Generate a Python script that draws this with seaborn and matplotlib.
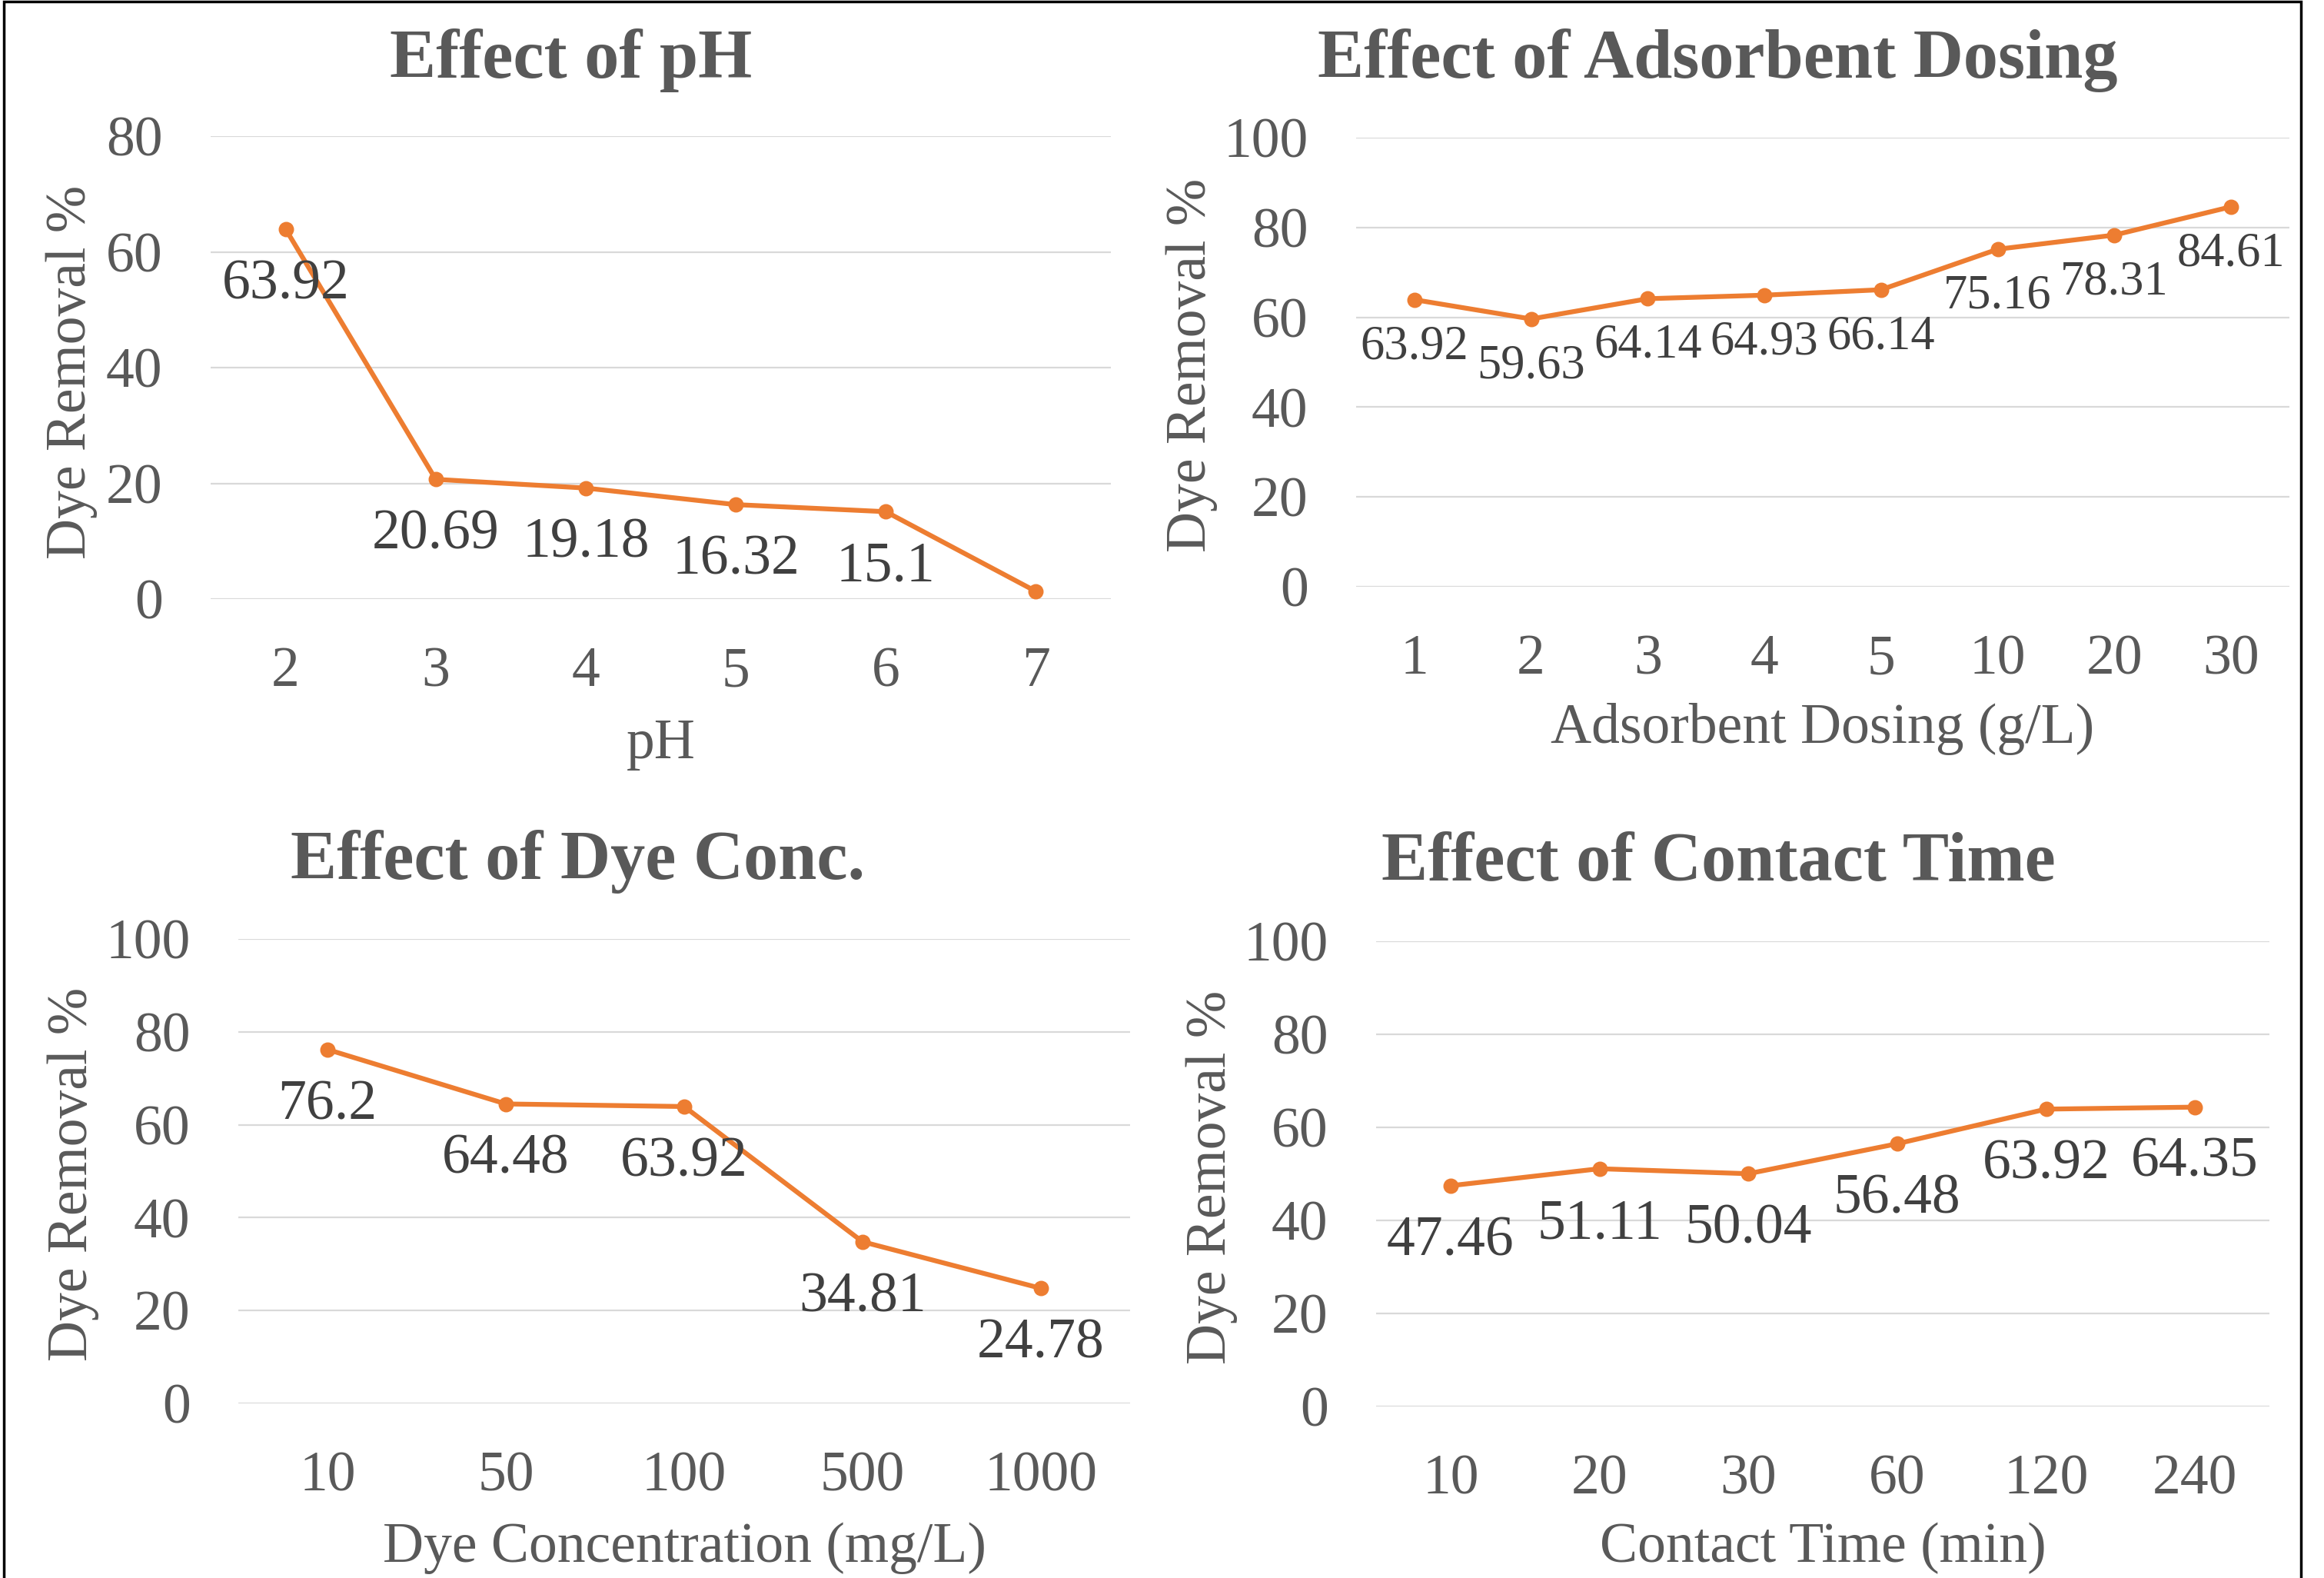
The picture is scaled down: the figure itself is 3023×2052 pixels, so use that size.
import matplotlib
matplotlib.use("Agg")
import matplotlib.pyplot as plt
import seaborn as sns
from matplotlib.patches import Rectangle

# ---- data -------------------------------------------------------------
ph_levels = ["2", "3", "4", "5", "6", "7"]
ph_removal = [63.92, 20.69, 19.18, 16.32, 15.1, 1.33]
ph_labelled = [True, True, True, True, True, False]

dose_levels = ["1", "2", "3", "4", "5", "10", "20", "30"]
dose_removal = [63.92, 59.63, 64.14, 64.93, 66.14, 75.16, 78.31, 84.61]
dose_labelled = [True] * len(dose_levels)

conc_levels = ["10", "50", "100", "500", "1000"]
conc_removal = [76.2, 64.48, 63.92, 34.81, 24.78]
conc_labelled = [True] * len(conc_levels)

time_levels = ["10", "20", "30", "60", "120", "240"]
time_removal = [47.46, 51.11, 50.04, 56.48, 63.92, 64.35]
time_labelled = [True] * len(time_levels)

# ---- style ------------------------------------------------------------
sns.set_style("white")
plt.rcParams["font.family"] = ["Liberation Serif", "DejaVu Serif"]

ORANGE = "#ED7D31"
GRID = "#D9D9D9"
TEXT = "#595959"
VALUE = "#404040"
FS = 53
TITLE_FS = 65

W, H = 3023, 2052
fig = plt.figure(figsize=(W / 100, H / 100), dpi=100)


def fx(px):
    return px / W


def fy(py):
    return 1 - py / H


panels = [
    dict(box=(274, 1445, 177, 779), levels=ph_levels, values=ph_removal,
         labelled=ph_labelled, ymax=80, title="Effect of pH", title_at=(743, 101),
         xlabel="pH", xlabel_y=986, ylabel_at=(111, 484),
         value_fs=FS, value_drop=65),
    dict(box=(1764, 2978, 179, 763), levels=dose_levels, values=dose_removal,
         labelled=dose_labelled, ymax=100, title="Effect of Adsorbent Dosing",
         title_at=(2234, 101), xlabel="Adsorbent Dosing (g/L)", xlabel_y=966,
         ylabel_at=(1568, 475), value_fs=45, value_drop=55),
    dict(box=(310, 1470, 1221, 1825), levels=conc_levels, values=conc_removal,
         labelled=conc_labelled, ymax=100, title="Effect of Dye Conc.",
         title_at=(752, 1143), xlabel="Dye Concentration (mg/L)", xlabel_y=2031,
         ylabel_at=(113, 1527), value_fs=FS, value_drop=65),
    dict(box=(1790, 2952, 1224, 1829), levels=time_levels, values=time_removal,
         labelled=time_labelled, ymax=100, title="Effect of Contact Time",
         title_at=(2235, 1145), xlabel="Contact Time (min)", xlabel_y=2031,
         ylabel_at=(1594, 1531), value_fs=FS, value_drop=65),
]

for p in panels:
    left, right, top, bottom = p["box"]
    ax = fig.add_axes([fx(left), fy(bottom), fx(right - left), (bottom - top) / H])
    n = len(p["levels"])

    sns.pointplot(x=p["levels"], y=p["values"], ax=ax, color=ORANGE,
                  markers="o", markersize=11, linewidth=4.5, errorbar=None)

    ax.set_xlim(-0.5, n - 0.5)
    ax.set_ylim(0, p["ymax"])
    ax.set_yticks(range(0, p["ymax"] + 1, 20))
    ax.yaxis.grid(True, color=GRID, linewidth=1.6)
    ax.xaxis.grid(False)
    ax.set_axisbelow(True)
    for s in ax.spines.values():
        s.set_visible(False)
    ax.tick_params(axis="x", length=0, pad=44.6, labelsize=FS, labelcolor=TEXT)
    ax.tick_params(axis="y", length=0, pad=45, labelsize=FS, labelcolor=TEXT)

    # value labels under each point
    for i, (v, show) in enumerate(zip(p["values"], p["labelled"])):
        if show:
            ax.annotate(f"{v:g}", xy=(i, v), xytext=(0, -p["value_drop"]),
                        textcoords="offset points", ha="center", va="baseline",
                        fontsize=p["value_fs"], color=VALUE)

    ax.set_xlabel(p["xlabel"], fontsize=FS, color=TEXT, va="baseline")
    ax.xaxis.set_label_coords(fx((left + right) / 2), fy(p["xlabel_y"]),
                              transform=fig.transFigure)
    ax.set_ylabel("Dye Removal %", fontsize=FS, color=TEXT, va="baseline",
                  ha="center", rotation=90, rotation_mode="anchor")
    ylx, yly = p["ylabel_at"]
    ax.yaxis.set_label_coords(fx(ylx), fy(yly), transform=fig.transFigure)

    tx, ty = p["title_at"]
    fig.text(fx(tx), fy(ty), p["title"], ha="center", va="baseline",
             fontsize=TITLE_FS, fontweight="bold", color=TEXT)

# outer frame
fig.add_artist(Rectangle((fx(5), -0.01), fx(2993 - 5), 1.01 - 1.5 / H,
                         transform=fig.transFigure, fill=False,
                         edgecolor="black", linewidth=2.5, clip_on=False))

fig.savefig("out.png", dpi=100, facecolor="white")
